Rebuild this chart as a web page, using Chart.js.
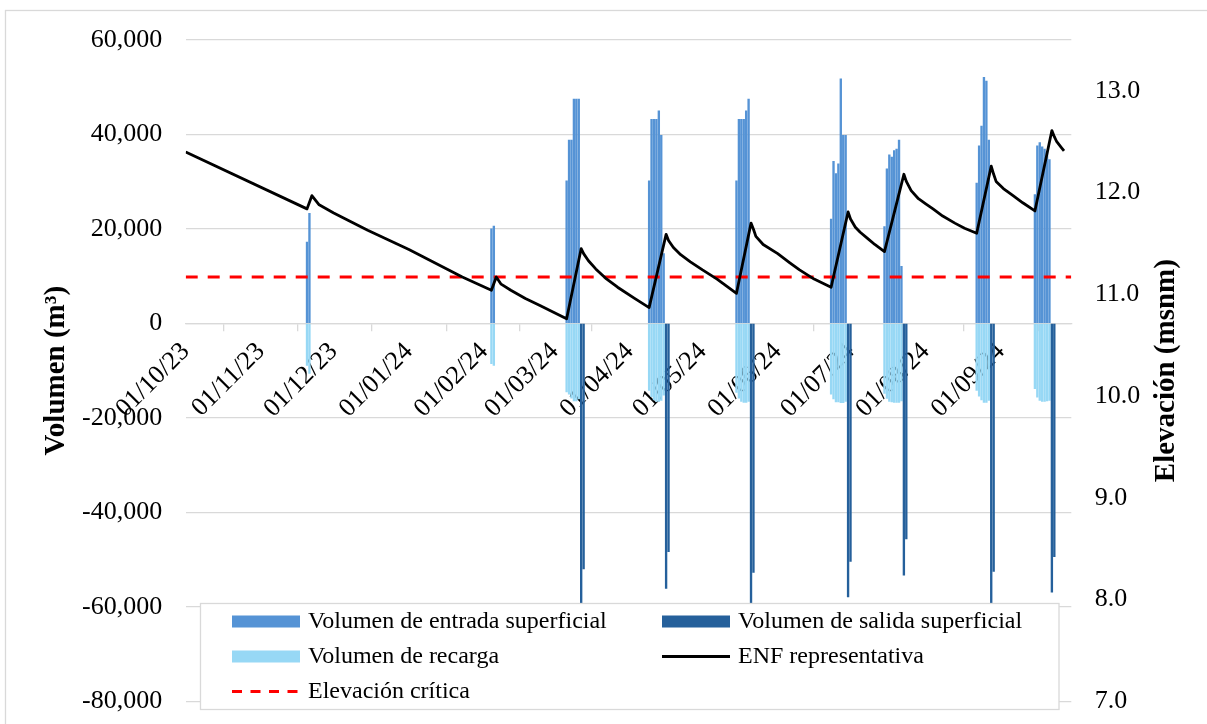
<!DOCTYPE html>
<html lang="es">
<head>
<meta charset="utf-8">
<title>Volúmenes y elevación ENF</title>
<script src="https://cdn.jsdelivr.net/npm/chart.js@4.4.1/dist/chart.umd.min.js"></script>
<style>
  html, body { margin: 0; padding: 0; background: #ffffff; }
  #marco { position: relative; width: 1207px; height: 724px; }
</style>
</head>
<body>
<div id="marco"><canvas id="grafico"></canvas></div>
<script>
// ---- Datos ----
const FECHA_INICIO = '2023-10-01';
const FECHA_FIN = '2024-09-30';

// Etiquetas del eje de fechas (primer día de cada mes)
const etiquetasMes = ['01/10/23', '01/11/23', '01/12/23', '01/01/24', '01/02/24', '01/03/24',
                      '01/04/24', '01/05/24', '01/06/24', '01/07/24', '01/08/24', '01/09/24'];

// Eventos de entrada superficial: primer día de cada evento y volumen diario (m³)
const entradaInicio = ['2023-11-20', '2024-02-04', '2024-03-06', '2024-04-09', '2024-05-15',
                       '2024-06-23', '2024-07-15', '2024-08-22', '2024-09-15'];
const entradaVolumen = [
  [17200, 23300],
  [20000, 20600],
  [30200, 38800, 38800, 47500, 47500, 47500],
  [30200, 43200, 43200, 43200, 45000, 39800, 14800],
  [30200, 43200, 43200, 43200, 45000, 47500],
  [22100, 34300, 31700, 33800, 51800, 39800, 39800],
  [20500, 32700, 35700, 35200, 36600, 36900, 38800, 12100],
  [29700, 37600, 41800, 52100, 51300, 38800],
  [27300, 37600, 38300, 37400, 36900, 36300, 34700]
];

// Recarga en los mismos días de cada evento de entrada (m³)
const recargaVolumen = [
  [-8900, -10600],
  [-8500, -8900],
  [-14500, -15000, -15800, -16400, -16400, -16000],
  [-14200, -15500, -16200, -16500, -16500, -16300, -15200],
  [-14600, -15800, -16500, -16700, -16700, -16500],
  [-15000, -16000, -16600, -16600, -16800, -16800, -16500],
  [-14800, -15900, -16500, -16600, -16700, -16700, -16700, -16400],
  [-14200, -15400, -16200, -16700, -16700, -16300],
  [-13800, -15600, -16300, -16500, -16500, -16400, -16300]
];

// Salida superficial: primer día de cada descarga y volumen diario (m³)
const salidaInicio = ['2024-03-12', '2024-04-16', '2024-05-21', '2024-06-30',
                      '2024-07-23', '2024-08-28', '2024-09-22'];
const salidaVolumen = [
  [-61500, -52000],
  [-56100, -48300],
  [-61000, -52700],
  [-57900, -50400],
  [-53300, -45600],
  [-60500, -52500],
  [-56900, -49400]
];

// Elevación del nivel freático (ENF) representativa (msnm)
const enfFecha = [
  '2023-10-01', '2023-11-20', '2023-11-22', '2023-11-25', '2023-12-01', '2023-12-15',
  '2024-01-01', '2024-01-23', '2024-02-04', '2024-02-06', '2024-02-08', '2024-02-12',
  '2024-02-18', '2024-02-24', '2024-03-01', '2024-03-06', '2024-03-12', '2024-03-13',
  '2024-03-15', '2024-03-18', '2024-03-22', '2024-03-27', '2024-04-03', '2024-04-09',
  '2024-04-16', '2024-04-17', '2024-04-19', '2024-04-22', '2024-04-26', '2024-05-01',
  '2024-05-07', '2024-05-15', '2024-05-21', '2024-05-22', '2024-05-23', '2024-05-26',
  '2024-06-01', '2024-06-06', '2024-06-10', '2024-06-16', '2024-06-23', '2024-06-30',
  '2024-07-01', '2024-07-03', '2024-07-05', '2024-07-08', '2024-07-11', '2024-07-15',
  '2024-07-23', '2024-07-24', '2024-07-26', '2024-07-29', '2024-08-01', '2024-08-04',
  '2024-08-08', '2024-08-13', '2024-08-17', '2024-08-22', '2024-08-28', '2024-08-29',
  '2024-08-30', '2024-09-02', '2024-09-06', '2024-09-10', '2024-09-15', '2024-09-22',
  '2024-09-23', '2024-09-24', '2024-09-26', '2024-09-27'
];
const enfElevacion = [
  12.40, 11.84, 11.97, 11.88, 11.80, 11.63,
  11.44, 11.17, 11.04, 11.17, 11.10, 11.04,
  10.96, 10.89, 10.82, 10.76, 11.45, 11.40,
  11.33, 11.25, 11.16, 11.07, 10.96, 10.87,
  11.59, 11.53, 11.46, 11.39, 11.32, 11.24,
  11.15, 11.01, 11.70, 11.64, 11.57, 11.49,
  11.40, 11.31, 11.24, 11.15, 11.07, 11.81,
  11.74, 11.66, 11.61, 11.55, 11.49, 11.42,
  12.18, 12.11, 12.02, 11.94, 11.89, 11.84,
  11.77, 11.70, 11.65, 11.60, 12.26, 12.18,
  12.11, 12.04, 11.97, 11.90, 11.82, 12.61,
  12.55, 12.50, 12.44, 12.41
];

// Elevación crítica (msnm)
const elevacionCritica = 11.17;

// ---- Utilidades de fechas ----
const dia = f => Math.round((Date.parse(f) - Date.parse(FECHA_INICIO)) / 864e5);
const isoDesdeEtiqueta = e => { const [d, m, a] = e.split('/'); return `20${a}-${m}-${d}`; };
const diasMes = etiquetasMes.map(e => dia(isoDesdeEtiqueta(e)));

const serieEventos = (inicios, volumenes) =>
  inicios.flatMap((f, k) => volumenes[k].map((v, j) => ({ x: dia(f) + j, y: v })));

const fuente = "'Liberation Serif', 'Times New Roman', serif";
const gris = '#d9d9d9';
const transparente = 'rgba(0,0,0,0)';

// Fondo y marco exterior
const marcoExterior = {
  id: 'marcoExterior',
  beforeDraw(chart) {
    const { ctx } = chart;
    ctx.save();
    ctx.fillStyle = '#ffffff';
    ctx.fillRect(0, 0, chart.width, chart.height);
    ctx.strokeStyle = gris;
    ctx.lineWidth = 1.3;
    ctx.strokeRect(5.5, 10.5, 1215, 740);
    ctx.restore();
  }
};

// Título del eje secundario (leído de abajo hacia arriba)
const tituloSecundario = {
  id: 'tituloSecundario',
  afterDraw(chart) {
    const { ctx, chartArea } = chart;
    ctx.save();
    ctx.translate(1167, (chartArea.top + chartArea.bottom) / 2);
    ctx.rotate(-Math.PI / 2);
    ctx.font = `bold 29px ${fuente}`;
    ctx.fillStyle = '#000';
    ctx.textAlign = 'center';
    ctx.textBaseline = 'middle';
    ctx.fillText('Elevación (msnm)', 0, 0);
    ctx.restore();
  }
};

// Leyenda dentro del área de trazado, en dos columnas
const leyendaInterior = {
  id: 'leyendaInterior',
  afterDraw(chart) {
    const { ctx } = chart;
    const caja = { x: 200.5, y: 603.5, w: 858.5, h: 106 };
    const colX = [232, 662];
    const filaY = [621.5, 656.5, 691.5];
    ctx.save();
    ctx.fillStyle = '#ffffff';
    ctx.fillRect(caja.x, caja.y, caja.w, caja.h);
    ctx.strokeStyle = gris;
    ctx.lineWidth = 1.3;
    ctx.strokeRect(caja.x, caja.y, caja.w, caja.h);
    ctx.font = `24px ${fuente}`;
    ctx.textBaseline = 'middle';
    chart.data.datasets.forEach((ds, i) => {
      const x = colX[i % 2];
      const y = filaY[Math.floor(i / 2)];
      if (ds.type === 'line') {
        ctx.strokeStyle = ds.borderColor;
        ctx.lineWidth = 3;
        ctx.setLineDash(ds.borderDash ? [10, 8.5] : []);
        ctx.beginPath();
        ctx.moveTo(x, y);
        ctx.lineTo(x + 68, y);
        ctx.stroke();
        ctx.setLineDash([]);
      } else {
        ctx.fillStyle = ds.backgroundColor;
        ctx.fillRect(x, y - 6, 68, 12);
      }
      ctx.fillStyle = '#000';
      ctx.fillText(ds.label, x + 76, y);
    });
    ctx.restore();
  }
};

new Chart(document.getElementById('grafico'), {
  type: 'bar',
  data: {
    datasets: [
      {
        label: 'Volumen de entrada superficial',
        data: serieEventos(entradaInicio, entradaVolumen),
        backgroundColor: '#5593d5',
        yAxisID: 'y', order: 3, grouped: false, barThickness: 1.7
      },
      {
        label: 'Volumen de salida superficial',
        data: serieEventos(salidaInicio, salidaVolumen),
        backgroundColor: '#25609b',
        yAxisID: 'y', order: 3, grouped: false, barThickness: 1.7
      },
      {
        label: 'Volumen de recarga',
        data: serieEventos(entradaInicio, recargaVolumen),
        backgroundColor: '#97d8f5',
        yAxisID: 'y', order: 4, grouped: false, barThickness: 1.7
      },
      {
        type: 'line',
        label: 'ENF representativa',
        data: enfFecha.map((f, i) => ({ x: dia(f), y: enfElevacion[i] })),
        borderColor: '#000000',
        borderWidth: 2.8,
        pointRadius: 0,
        tension: 0,
        borderJoinStyle: 'round',
        yAxisID: 'y1', order: 0
      },
      {
        type: 'line',
        label: 'Elevación crítica',
        data: [{ x: dia(FECHA_INICIO), y: elevacionCritica }, { x: dia(FECHA_FIN), y: elevacionCritica }],
        borderColor: '#ff0000',
        borderWidth: 3,
        borderDash: [12, 10],
        pointRadius: 0,
        yAxisID: 'y1', order: 1
      }
    ]
  },
  options: {
    responsive: true,
    maintainAspectRatio: false,
    animation: false,
    layout: { padding: { top: 40, bottom: 22.7, left: 0, right: 0 } },
    plugins: { legend: { display: false }, tooltip: { enabled: false } },
    scales: {
      x: {
        type: 'linear',
        position: { y: 0 },
        min: dia(FECHA_INICIO),
        max: dia(FECHA_FIN),
        offset: false,
        afterBuildTicks: s => { s.ticks = diasMes.map(v => ({ value: v })); },
        ticks: {
          autoSkip: false,
          minRotation: 45,
          maxRotation: 45,
          padding: 6,
          color: '#000',
          font: { family: fuente, size: 26 },
          callback: (v, i) => etiquetasMes[i]
        },
        grid: { drawOnChartArea: false, drawTicks: true, tickLength: 7, color: gris, lineWidth: 1.3 },
        border: { display: true, color: gris, width: 1.3 }
      },
      y: {
        position: 'left',
        min: -80000,
        max: 60000,
        afterFit: s => { s.width = 185.7; },
        ticks: {
          stepSize: 20000,
          padding: 0,
          color: '#000',
          font: { family: fuente, size: 26 },
          callback: v => v.toLocaleString('en-US')
        },
        grid: { color: gris, lineWidth: 1.3, drawTicks: true, tickLength: 23.5, tickColor: transparente },
        border: { display: false },
        title: {
          display: true,
          text: 'Volumen (m³)',
          color: '#000',
          font: { family: fuente, size: 29, weight: 'bold', lineHeight: 1.2 },
          padding: { top: 39.6, bottom: 0 }
        }
      },
      y1: {
        position: 'right',
        min: 7,
        max: 13.5,
        afterFit: s => { s.width = 135.7; },
        ticks: {
          stepSize: 1,
          padding: 0,
          color: '#000',
          font: { family: fuente, size: 26 },
          callback: v => (v > 13.01 ? '' : v.toFixed(1))
        },
        grid: { drawOnChartArea: false, drawTicks: true, tickLength: 23.5, tickColor: transparente },
        border: { display: false }
      }
    }
  },
  plugins: [marcoExterior, tituloSecundario, leyendaInterior]
});
</script>
</body>
</html>
